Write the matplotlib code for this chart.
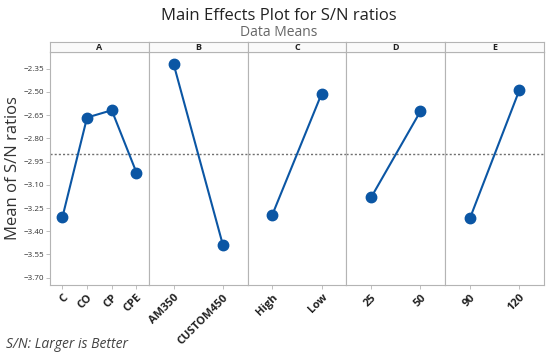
import matplotlib
matplotlib.use("Agg")
import matplotlib.pyplot as plt
import numpy as np

plt.rcParams['font.family'] = ['Open Sans', 'DejaVu Sans']

factors = ["A", "B", "C", "D", "E"]
levels = [
    ["C", "CO", "CP", "CPE"],
    ["AM350", "CUSTOM450"],
    ["High", "Low"],
    ["25", "50"],
    ["90", "120"],
]
means = [
    [-3.311, -2.666, -2.619, -3.021],
    [-2.318, -3.489],
    [-3.294, -2.511],
    [-3.182, -2.625],
    [-3.317, -2.490],
]
overall_mean = -2.904
yticks = [-2.35, -2.50, -2.65, -2.80, -2.95, -3.10, -3.25, -3.40, -3.55, -3.70]

W, H = 550, 358
fig = plt.figure(figsize=(W / 100, H / 100), dpi=100)

left_px, right_px = 50, 544
top_px, bottom_px = 52, 285
strip_top = 42
n = len(factors)
pw = (right_px - left_px) / n
line_col = "#0b56a4"
spine_col = "#b4b4b4"

axes = []
for i in range(n):
    x0 = left_px + i * pw
    ax = fig.add_axes([x0 / W, 1 - bottom_px / H, pw / W, (bottom_px - top_px) / H])
    axes.append(ax)
    xs = np.arange(1, len(levels[i]) + 1)
    ax.axhline(overall_mean, color="#707070", lw=1.0, ls=(0, (1.5, 1.5)), zorder=1)
    ax.plot(xs, means[i], color=line_col, lw=1.5, marker="o", ms=7.5,
            markerfacecolor=line_col, markeredgecolor=line_col, zorder=3)
    ax.set_xlim(0.5, len(levels[i]) + 0.5)
    ax.set_ylim(-3.747, -2.243)
    ax.set_xticks(xs)
    ax.set_xticklabels(levels[i], rotation=45, ha="right", rotation_mode="anchor",
                       fontsize=8, fontweight="bold", color="#222222")
    ax.set_yticks(yticks)
    if i == 0:
        ax.set_yticklabels([f"\u2212{abs(v):.2f}" for v in yticks], fontsize=5.8,
                           color="#333333")
        ax.tick_params(axis="y", length=3, width=0.6, color=spine_col, pad=1.5)
    else:
        ax.tick_params(axis="y", left=False, labelleft=False)
    ax.tick_params(axis="x", length=3, width=0.6, color=spine_col, pad=2)
    for s in ax.spines.values():
        s.set_color(spine_col)
        s.set_linewidth(0.8)
    # strip header
    sax = fig.add_axes([x0 / W, 1 - top_px / H, pw / W, (top_px - strip_top) / H])
    sax.set_xticks([])
    sax.set_yticks([])
    sax.set_facecolor("#fafafa")
    for s in sax.spines.values():
        s.set_color(spine_col)
        s.set_linewidth(0.8)
    sax.text(0.5, 0.45, factors[i], ha="center", va="center", fontsize=6.5,
             fontweight="bold", color="#222222", transform=sax.transAxes)

fig.text(279 / W, 1 - 16 / H, "Main Effects Plot for S/N ratios", ha="center",
         va="center", fontsize=12, color="#222222")
fig.text(279 / W, 1 - 32 / H, "Data Means", ha="center", va="center",
         fontsize=10, color="#666666")
fig.text(13 / W, 1 - 168 / H, "Mean of S/N ratios", rotation=90, ha="center",
         va="center", fontsize=12, color="#333333")
fig.text(6 / W, 1 - 345 / H, "S/N: Larger is Better", ha="left", va="center",
         fontsize=10, style="italic", color="#444444")

fig.savefig("out.png", dpi=100)
